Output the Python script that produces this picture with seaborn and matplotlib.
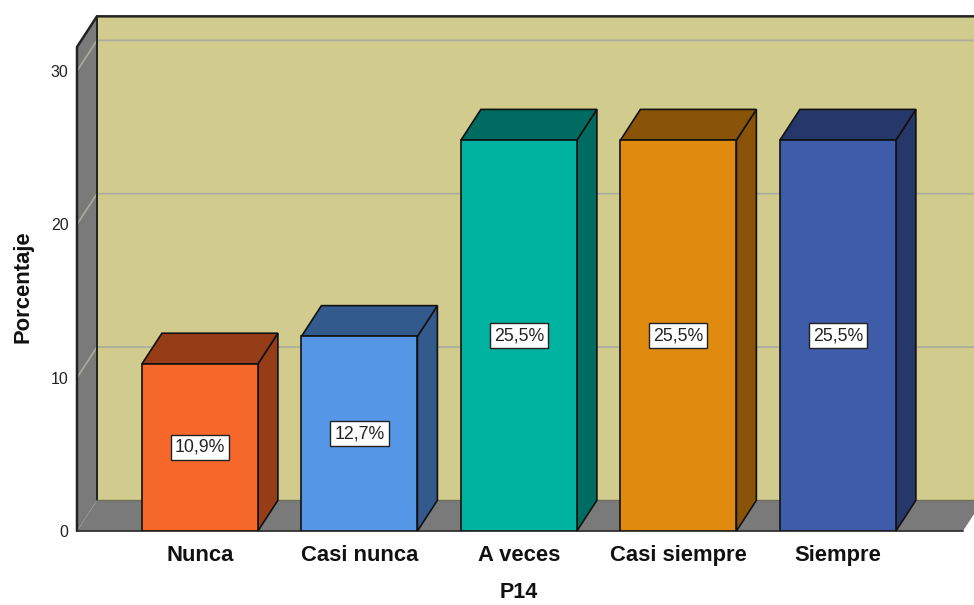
import matplotlib
matplotlib.use('Agg')
import matplotlib.pyplot as plt
from matplotlib.patches import Polygon
import seaborn as sns

categories = ['Nunca', 'Casi nunca', 'A veces', 'Casi siempre', 'Siempre']
values = [10.9, 12.7, 25.5, 25.5, 25.5]
labels = ['10,9%', '12,7%', '25,5%', '25,5%', '25,5%']
y_ticks = [0, 10, 20, 30]

front_colors = ['#F5682A', '#5596E6', '#00B3A0', '#E08A10', '#3F5CA8']
side_colors = ['#963D17', '#335A8C', '#006B60', '#8A5408', '#26376A']
wall_color = '#D1CC8E'
grey_color = '#7A7A7A'
grid_color = '#ABABA0'
edge_color = '#111111'

# the 3d look: how far the back plane is shifted, in data units
depth_x = 0.125
depth_y = 2.0
x_min, x_max = -0.771, 4.784
y_max = 31.57

sns.set_style('white')
plt.rcParams['font.family'] = ['Liberation Sans', 'DejaVu Sans']

fig = plt.figure(figsize=(9.74, 6.05), dpi=100)
ax = fig.add_axes([77 / 974, 74 / 605, 886 / 974, 484 / 605])

sns.barplot(x=categories, y=values, hue=categories, palette=front_colors,
            width=0.727, saturation=1, edgecolor=edge_color, linewidth=1.2,
            legend=False, ax=ax, zorder=5)
ax.set_xlim(x_min, x_max)
ax.set_ylim(0, y_max)
ax.patch.set_visible(False)
sns.despine(ax=ax, left=True, bottom=True)


def add_poly(points, color, zorder, edge='none', lw=0):
    ax.add_patch(Polygon(points, closed=True, facecolor=color, edgecolor=edge,
                         linewidth=lw, zorder=zorder, clip_on=False))


back_left = x_min + depth_x
back_right = x_max + depth_x
back_top = y_max + depth_y

# back wall, floor, left wall
add_poly([(back_left, depth_y), (back_right, depth_y), (back_right, back_top), (back_left, back_top)],
         wall_color, 1)
add_poly([(x_min, 0), (x_max, 0), (back_right, depth_y), (back_left, depth_y)], grey_color, 1)
add_poly([(x_min, 0), (back_left, depth_y), (back_left, back_top), (x_min, y_max)], grey_color, 1)

# gridlines run along the wall and go diagonally over the left wall
for t in y_ticks[1:]:
    ax.plot([x_min, back_left, back_right], [t, t + depth_y, t + depth_y],
            color=grid_color, lw=1.2, zorder=2, clip_on=False)
ax.plot([x_min, back_left], [0, depth_y], color='#999999', lw=0.7, ls=':', zorder=2, clip_on=False)

# outlines of the box
ax.plot([x_min, x_min, back_left, back_right], [0, y_max, back_top, back_top],
        color='#222222', lw=1.8, zorder=3, clip_on=False)
ax.plot([back_left, back_left], [depth_y, back_top], color='#222222', lw=1.4, zorder=3, clip_on=False)
ax.plot([back_left, back_right], [depth_y, depth_y], color='#6E6E58', lw=1, zorder=3, clip_on=False)
ax.plot([x_min, x_max], [0, 0], color='#333333', lw=1.3, zorder=3, clip_on=False)

# side and top faces from the bars seaborn drew
for bar, side, label in zip(ax.patches[:len(values)], side_colors, labels):
    x0, w, h = bar.get_x(), bar.get_width(), bar.get_height()
    x1 = x0 + w
    add_poly([(x1, 0), (x1 + depth_x, depth_y), (x1 + depth_x, h + depth_y), (x1, h)],
             side, 4, edge_color, 1.2)
    add_poly([(x0, h), (x1, h), (x1 + depth_x, h + depth_y), (x0 + depth_x, h + depth_y)],
             side, 4, edge_color, 1.2)
    ax.text(x0 + w / 2, h / 2, label, ha='center', va='center', fontsize=12.8, color='#222222', zorder=6,
            bbox=dict(boxstyle='square,pad=0.22', facecolor='white', edgecolor='#222222', linewidth=1))

ax.set_yticks(y_ticks)
ax.tick_params(axis='y', length=0, pad=6, labelsize=11.5, labelcolor='#222222')
ax.tick_params(axis='x', length=0, pad=10, labelsize=15.8, labelcolor='#111111')
for t in ax.get_xticklabels():
    t.set_fontweight('bold')

fig.text(23 / 974, 1 - 287 / 605, 'Porcentaje', rotation=90, ha='center', va='center',
         fontsize=15.8, fontweight='bold', color='#111111')
fig.text(519 / 974, 1 - 603 / 605, 'P14', ha='center', va='bottom',
         fontsize=15.5, fontweight='bold', color='#111111')

fig.savefig('out.png', dpi=100)
